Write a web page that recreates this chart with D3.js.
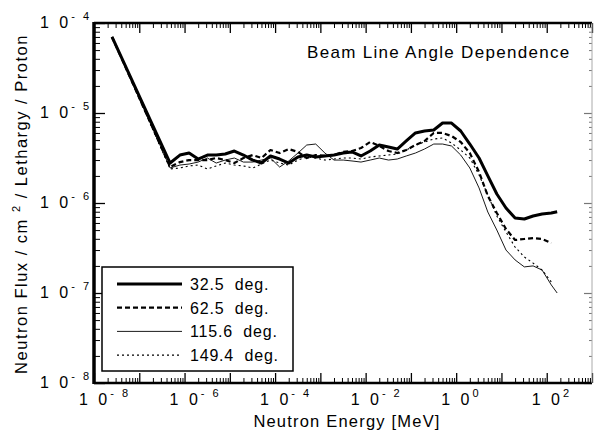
<!DOCTYPE html>
<html><head><meta charset="utf-8">
<script src="https://cdn.jsdelivr.net/npm/d3@7"></script>
<style>body{margin:0;background:#fff}text{font-family:"Liberation Sans",Arial,Helvetica,sans-serif;fill:#000}</style>
</head><body><svg id="c" width="594" height="446"></svg>
<script>
// Neutron energy grid (MeV)
const energies = [2.5e-8, 4.8e-7, 7.9e-7, 1.26e-6, 2.0e-6, 3.2e-6, 5.0e-6, 7.9e-6, 1.26e-5, 2.0e-5,
  3.2e-5, 5.0e-5, 7.9e-5, 1.26e-4, 2.0e-4, 3.2e-4, 5.0e-4, 7.9e-4, 1.26e-3, 2.0e-3,
  3.2e-3, 5.0e-3, 7.9e-3, 0.0126, 0.02, 0.032, 0.05, 0.079, 0.126, 0.2,
  0.32, 0.5, 0.79, 1.26, 2.0, 3.2, 5.0, 7.9, 12.6, 20,
  32, 50, 79, 126, 170];
// Flux per series (n / cm^2 / lethargy / proton)
const flux32 = [7.0e-5, 2.78e-6, 3.41e-6, 3.59e-6, 3.08e-6, 3.41e-6, 3.41e-6, 3.50e-6, 3.78e-6, 3.41e-6,
  3.00e-6, 2.78e-6, 3.33e-6, 3.08e-6, 2.78e-6, 3.24e-6, 3.41e-6, 3.24e-6, 3.33e-6, 3.41e-6,
  3.59e-6, 3.69e-6, 3.33e-6, 3.78e-6, 4.41e-6, 4.19e-6, 3.98e-6, 4.89e-6, 6.0e-6, 6.31e-6,
  6.47e-6, 7.74e-6, 7.74e-6, 6.31e-6, 4.52e-6, 3.16e-6, 2.0e-6, 1.26e-6, 8.8e-7, 6.81e-7,
  6.64e-7, 7.17e-7, 7.55e-7, 7.74e-7, 8.0e-7];
const flux62 = [7.0e-5, 2.51e-6, 2.85e-6, 3.0e-6, 3.0e-6, 3.0e-6, 3.16e-6, 3.0e-6, 2.78e-6, 3.16e-6,
  3.41e-6, 3.16e-6, 3.88e-6, 3.59e-6, 3.98e-6, 3.69e-6, 3.16e-6, 3.41e-6, 3.33e-6, 3.41e-6,
  3.69e-6, 3.78e-6, 4.08e-6, 4.76e-6, 4.30e-6, 3.78e-6, 3.59e-6, 3.88e-6, 4.41e-6, 4.89e-6,
  6.0e-6, 6.0e-6, 5.55e-6, 4.76e-6, 3.59e-6, 2.21e-6, 1.20e-6, 7.74e-7, 5.14e-7, 3.88e-7,
  3.98e-7, 4.08e-7, 3.98e-7, 3.59e-7, null];
const flux115 = [7.0e-5, 2.45e-6, 2.64e-6, 2.71e-6, 2.85e-6, 3.16e-6, 2.78e-6, 3.0e-6, 3.16e-6, 2.85e-6,
  2.85e-6, 3.0e-6, 3.16e-6, 2.51e-6, 2.93e-6, 3.59e-6, 4.41e-6, 4.52e-6, 3.59e-6, 3.0e-6,
  3.0e-6, 2.93e-6, 2.85e-6, 3.0e-6, 3.16e-6, 3.0e-6, 3.08e-6, 3.33e-6, 3.59e-6, 3.98e-6,
  4.52e-6, 4.52e-6, 4.30e-6, 3.41e-6, 2.45e-6, 1.47e-6, 7.94e-7, 5.01e-7, 3.0e-7, 2.33e-7,
  1.95e-7, 2.0e-7, 1.80e-7, 1.23e-7, 1.0e-7];
const flux149 = [7.0e-5, 2.39e-6, 2.45e-6, 2.58e-6, 2.64e-6, 2.39e-6, 2.58e-6, 2.78e-6, 2.64e-6, 2.58e-6,
  2.45e-6, 2.71e-6, 3.0e-6, 2.78e-6, 2.64e-6, 3.0e-6, 3.24e-6, 3.16e-6, 3.0e-6, 3.08e-6,
  3.16e-6, 3.16e-6, 3.08e-6, 3.24e-6, 3.33e-6, 3.41e-6, 3.50e-6, 3.88e-6, 4.41e-6, 4.76e-6,
  5.14e-6, 5.28e-6, 4.64e-6, 3.88e-6, 3.16e-6, 2.05e-6, 1.23e-6, 7.17e-7, 4.76e-7, 3.24e-7,
  2.51e-7, 2.15e-7, 1.80e-7, 1.33e-7, null];
const seriesLabels = ["32.5  deg.", "62.5  deg.", "115.6  deg.", "149.4  deg."];
const xTickExps = [-8, -6, -4, -2, 0, 2];
const yTickExps = [-4, -5, -6, -7, -8];
const titleText = "Beam Line Angle Dependence";
const xTitle = "Neutron Energy [MeV]";

const svg = d3.select("#c");
const X0 = 94, X1 = 592, Y0 = 383, Y1 = 23;
const x = d3.scaleLog().domain([1e-8, 1e3]).range([X0, X1]);
const y = d3.scaleLog().domain([1e-8, 1e-4]).range([Y0, Y1]);

// tick values
const xMajor = d3.range(-8, 4).map(e => Math.pow(10, e));
const xMinor = [];
d3.range(-8, 3).forEach(e => { for (let k = 2; k <= 9; k++) xMinor.push(k * Math.pow(10, e)); });
const yMajor = d3.range(-8, -3).map(e => Math.pow(10, e));
const yMinor = [];
d3.range(-8, -4).forEach(e => { for (let k = 2; k <= 9; k++) yMinor.push(k * Math.pow(10, e)); });

function styleAxis(g, w, col) {
  g.select(".domain").remove();
  g.selectAll("line").attr("stroke", col || "#000").attr("stroke-width", w);
}
// bottom
svg.append("g").attr("transform", `translate(0,${Y0})`).call(d3.axisBottom(x).tickValues(xMinor).tickSize(-5).tickFormat("")).call(g => styleAxis(g, 1));
svg.append("g").attr("transform", `translate(0,${Y0})`).call(d3.axisBottom(x).tickValues(xMajor).tickSize(-10).tickFormat("")).call(g => styleAxis(g, 1.3));
// top
svg.append("g").attr("transform", `translate(0,${Y1})`).call(d3.axisTop(x).tickValues(xMinor).tickSize(-5).tickFormat("")).call(g => styleAxis(g, 1));
svg.append("g").attr("transform", `translate(0,${Y1})`).call(d3.axisTop(x).tickValues(xMajor).tickSize(-10).tickFormat("")).call(g => styleAxis(g, 1.3));
// left
svg.append("g").attr("transform", `translate(${X0},0)`).call(d3.axisLeft(y).tickValues(yMinor).tickSize(-6).tickFormat("")).call(g => styleAxis(g, 1));
svg.append("g").attr("transform", `translate(${X0},0)`).call(d3.axisLeft(y).tickValues(yMajor).tickSize(-11).tickFormat("")).call(g => styleAxis(g, 1.3));
// right (faint in the scan)
svg.append("g").attr("transform", `translate(${X1},0)`).call(d3.axisRight(y).tickValues(yMinor).tickSize(-3).tickFormat("")).call(g => styleAxis(g, 1, "#777"));
svg.append("g").attr("transform", `translate(${X1},0)`).call(d3.axisRight(y).tickValues(yMajor).tickSize(-8).tickFormat("")).call(g => styleAxis(g, 1.2, "#777"));

// frame
svg.append("line").attr("x1", X0).attr("x2", X1).attr("y1", Y1).attr("y2", Y1).attr("stroke", "#000").attr("stroke-width", 2.5);
svg.append("line").attr("x1", X0).attr("x2", X1).attr("y1", Y0).attr("y2", Y0).attr("stroke", "#000").attr("stroke-width", 2.5);
svg.append("line").attr("x1", X0).attr("x2", X0).attr("y1", Y1 - 1).attr("y2", Y0 + 1).attr("stroke", "#000").attr("stroke-width", 3.5);
svg.append("line").attr("x1", X1).attr("x2", X1).attr("y1", Y1).attr("y2", Y0).attr("stroke", "#aaa").attr("stroke-width", 1);

// tick labels
function powLabel(sel, e) {
  sel.append("tspan").attr("font-size", 16).attr("letter-spacing", 3).text("1 0");
  sel.append("tspan").attr("font-size", 11).attr("dy", -8).attr("letter-spacing", 2.5)
    .text(e < 0 ? "- " + Math.abs(e) : String(e));
}
xTickExps.forEach(e => {
  const t = svg.append("text").attr("x", x(Math.pow(10, e)) - 15).attr("y", 405);
  powLabel(t, e);
});
yTickExps.forEach(e => {
  const t = svg.append("text").attr("x", 40).attr("y", y(Math.pow(10, e)) + 5);
  powLabel(t, e);
});

// axis titles
svg.append("text").attr("x", 347).attr("y", 427).attr("text-anchor", "middle")
  .attr("font-size", 16.5).attr("letter-spacing", 1.2).text(xTitle);
const yt = svg.append("text").attr("transform", "translate(27,204) rotate(-90)").attr("text-anchor", "middle")
  .attr("font-size", 16.5).attr("letter-spacing", 1.5);
yt.append("tspan").text("Neutron Flux / cm ");
yt.append("tspan").attr("font-size", 11).attr("dy", -7).text("2");
yt.append("tspan").attr("dy", 7).text(" / Lethargy / Proton");

// title
svg.append("text").attr("x", 307).attr("y", 58).attr("font-size", 17).attr("letter-spacing", 1.3).text(titleText);

// series
const series = [
  {vals: flux32, w: 3, dash: null},
  {vals: flux62, w: 2.2, dash: "5,3"},
  {vals: flux115, w: 0.9, dash: null},
  {vals: flux149, w: 1.1, dash: "2,3"}
];
const line = d3.line().defined(d => d[1] != null).x(d => x(d[0])).y(d => y(d[1]));
series.slice().reverse().forEach(s => {
  svg.append("path").datum(energies.map((e, i) => [e, s.vals[i]]))
    .attr("d", line).attr("fill", "none").attr("stroke", "#000")
    .attr("stroke-width", s.w).attr("stroke-dasharray", s.dash)
    .attr("stroke-linejoin", "round");
});

// legend
const lg = svg.append("g");
lg.append("rect").attr("x", 102).attr("y", 267).attr("width", 191).attr("height", 104)
  .attr("fill", "#fff").attr("stroke", "#000").attr("stroke-width", 1.5);
series.forEach((s, i) => {
  const ry = 284 + i * 23.7;
  lg.append("line").attr("x1", 117).attr("x2", 182).attr("y1", ry).attr("y2", ry)
    .attr("stroke", "#000").attr("stroke-width", s.w).attr("stroke-dasharray", s.dash);
  lg.append("text").attr("x", 190).attr("y", ry + 6).attr("font-size", 16).attr("letter-spacing", 0.8)
    .style("white-space", "pre").text(seriesLabels[i]);
});
</script></body></html>
